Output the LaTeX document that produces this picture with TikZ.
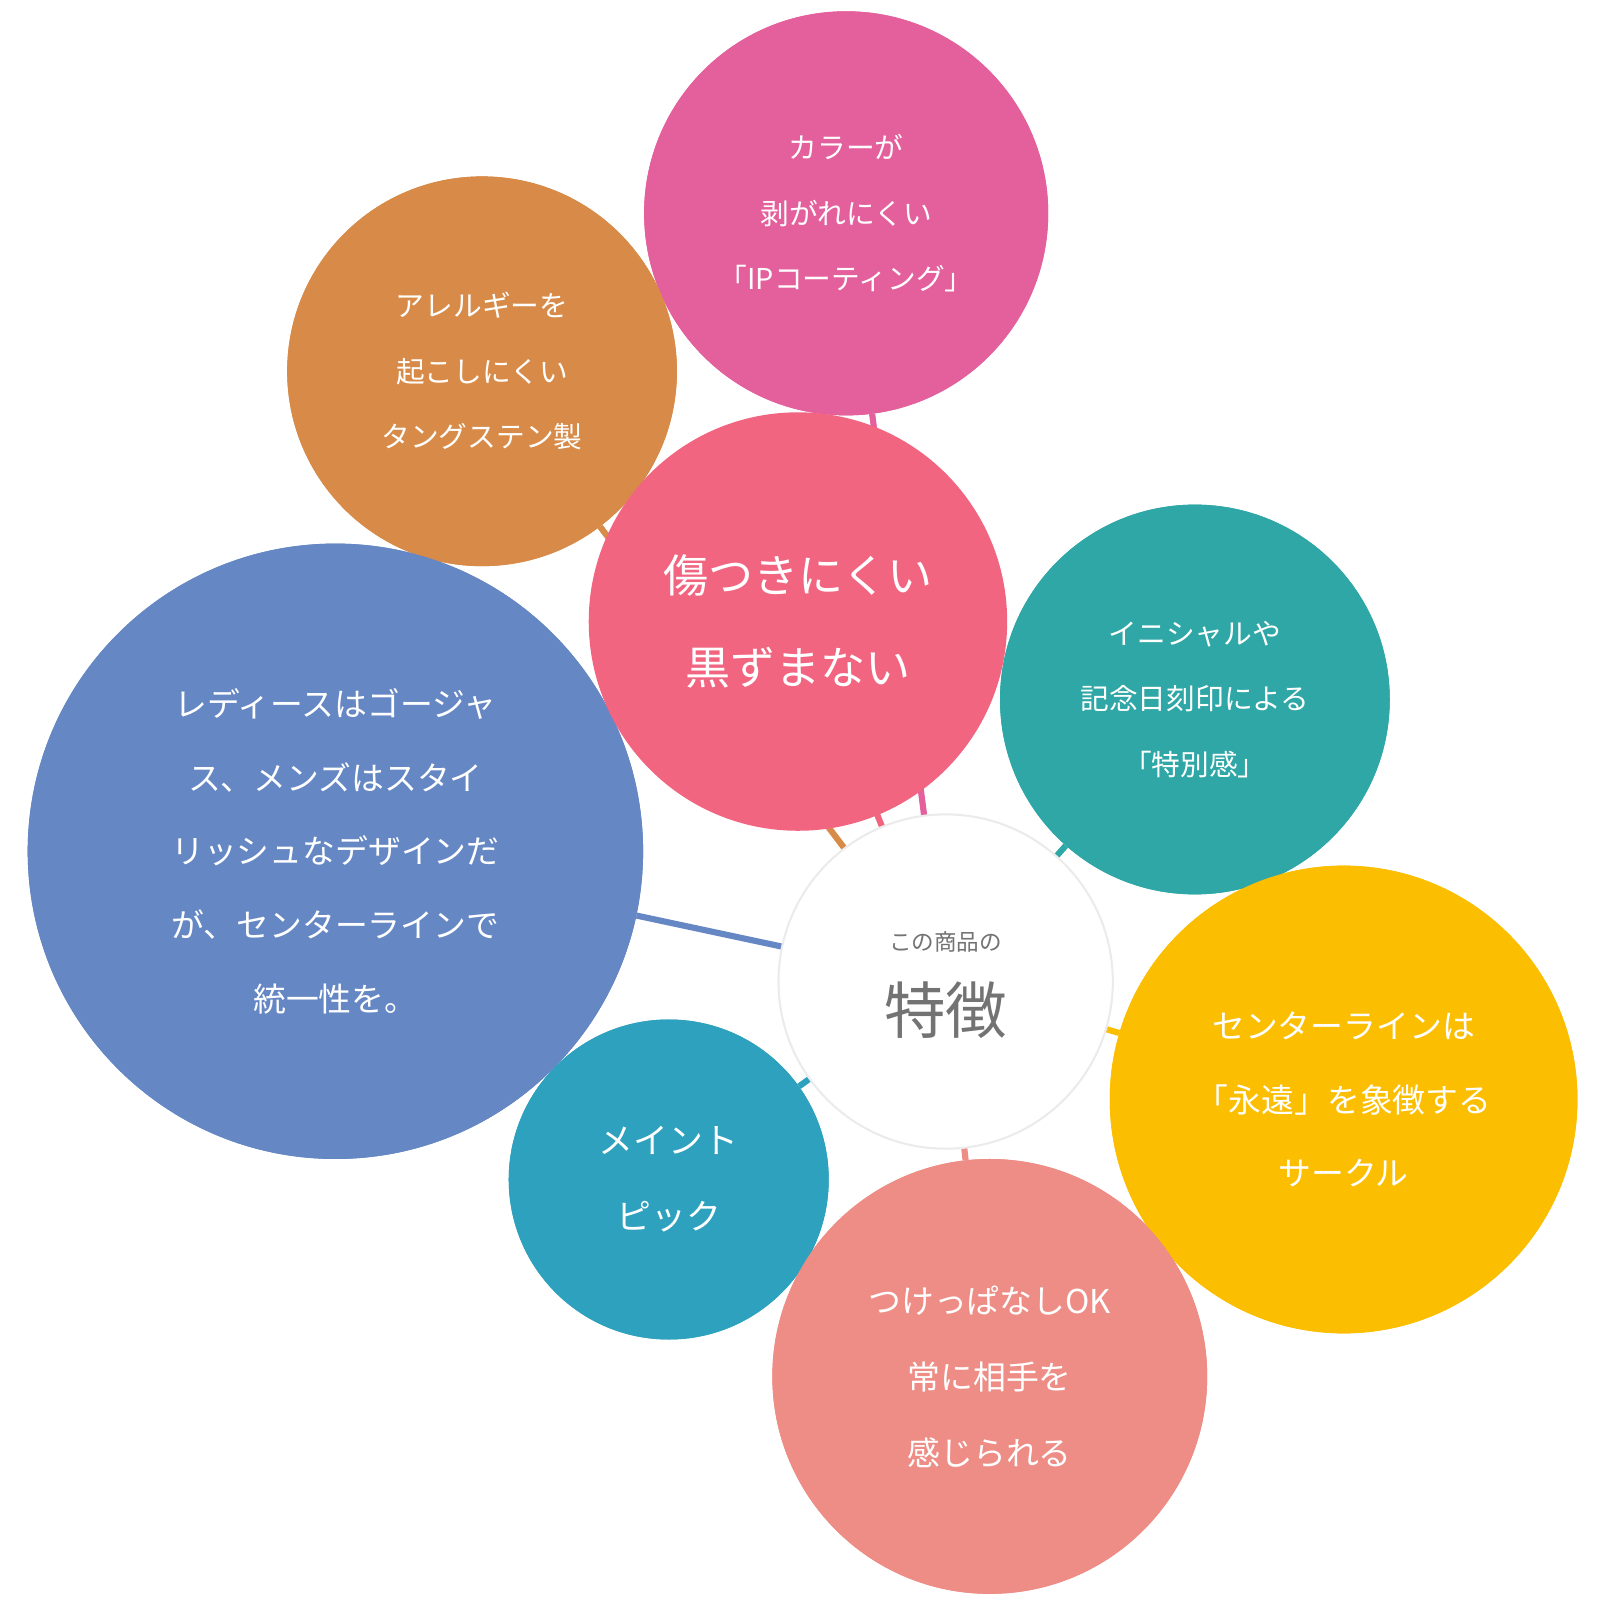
\documentclass[tikz,border=0pt]{standalone}
\usepackage{fontspec}
\newfontfamily\jp{Noto Sans CJK JP}
\definecolor{cmag}{HTML}{E4609C}
\definecolor{cora}{HTML}{D88B48}
\definecolor{cpink}{HTML}{F26580}
\definecolor{cteal}{HTML}{2EA7A6}
\definecolor{cblue}{HTML}{6587C4}
\definecolor{cyel}{HTML}{FBBE00}
\definecolor{ccyan}{HTML}{2DA1BD}
\definecolor{csal}{HTML}{EE8D86}
\tikzset{
 bub/.style={circle,inner sep=0pt,text=white,align=center,font=\jp\fontsize{28}{64}\selectfont},
 con/.style={line width=6pt}
}
\begin{document}
\begin{tikzpicture}[x=1pt,y=-1pt]
\useasboundingbox (0,0) rectangle (1560,1560);
\coordinate (c) at (922,957);
\node[bub,fill=cmag,minimum size=394pt] (m) at (825,208) {カラーが\\剥がれにくい\\「IPコーティング」};
\node[bub,fill=cora,minimum size=380pt] (o) at (470,362) {アレルギーを\\起こしにくい\\タングステン製};
\node[bub,fill=cteal,minimum size=380pt] (t) at (1165,682) {イニシャルや\\記念日刻印による\\「特別感」};
\node[bub,fill=cblue,minimum size=600pt,font=\jp\fontsize{32}{72}\selectfont] (b) at (327,830) {レディースはゴージャ\\ス、メンズはスタイ\\リッシュなデザインだ\\が、センターラインで\\統一性を。};
\node[bub,fill=cyel,minimum size=456pt,font=\jp\fontsize{32}{72}\selectfont] (y) at (1310,1072) {センターラインは\\「永遠」を象徴する\\サークル};
\node[bub,fill=ccyan,minimum size=312pt,font=\jp\fontsize{34}{74}\selectfont] (s) at (652,1150) {メイント\\ピック};
\node[bub,fill=csal,minimum size=424pt,font=\jp\fontsize{32}{74}\selectfont] (l) at (965,1342) {つけっぱなしOK\\常に相手を\\感じられる};
\begin{scope}[on background layer/.code={}]
\end{scope}
\draw[con,cmag] (c) -- (m);
\draw[con,cora] (c) -- (o);
\draw[con,cteal] (c) -- (t);
\draw[con,cblue] (c) -- (b);
\draw[con,cyel] (c) -- (y);
\draw[con,ccyan] (c) -- (s);
\draw[con,csal] (c) -- (l);
\draw[con,cpink] (c) -- (778,606);
\node[bub,fill=cmag,minimum size=394pt] at (825,208) {カラーが\\剥がれにくい\\「IPコーティング」};
\node[bub,fill=cora,minimum size=380pt] at (470,362) {アレルギーを\\起こしにくい\\タングステン製};
\node[bub,fill=cteal,minimum size=380pt] at (1165,682) {イニシャルや\\記念日刻印による\\「特別感」};
\node[bub,fill=cblue,minimum size=600pt,font=\jp\fontsize{32}{72}\selectfont] at (327,830) {レディースはゴージャ\\ス、メンズはスタイ\\リッシュなデザインだ\\が、センターラインで\\統一性を。};
\node[bub,fill=cyel,minimum size=456pt,font=\jp\fontsize{32}{72}\selectfont] at (1310,1072) {センターラインは\\「永遠」を象徴する\\サークル};
\node[bub,fill=ccyan,minimum size=312pt,font=\jp\fontsize{34}{74}\selectfont] at (652,1150) {メイント\\ピック};
\node[bub,fill=csal,minimum size=424pt,font=\jp\fontsize{32}{74}\selectfont] at (965,1342) {つけっぱなしOK\\常に相手を\\感じられる};
\node[bub,fill=cpink,minimum size=408pt,font=\jp\fontsize{44}{90}\selectfont] (p) at (778,606) {傷つきにくい\\黒ずまない};
\node[circle,fill=white,draw=black!8,line width=2pt,minimum size=326pt] (cc) at (c) {};
\node[text=black!55,font=\jp\fontsize{22}{26}\selectfont] (t1) at (922,918) {この商品の};
\node[text=black!55,font=\jp\fontsize{60}{70}\selectfont] (t2) at (922,985) {特徴};
\end{tikzpicture}
\end{document}
